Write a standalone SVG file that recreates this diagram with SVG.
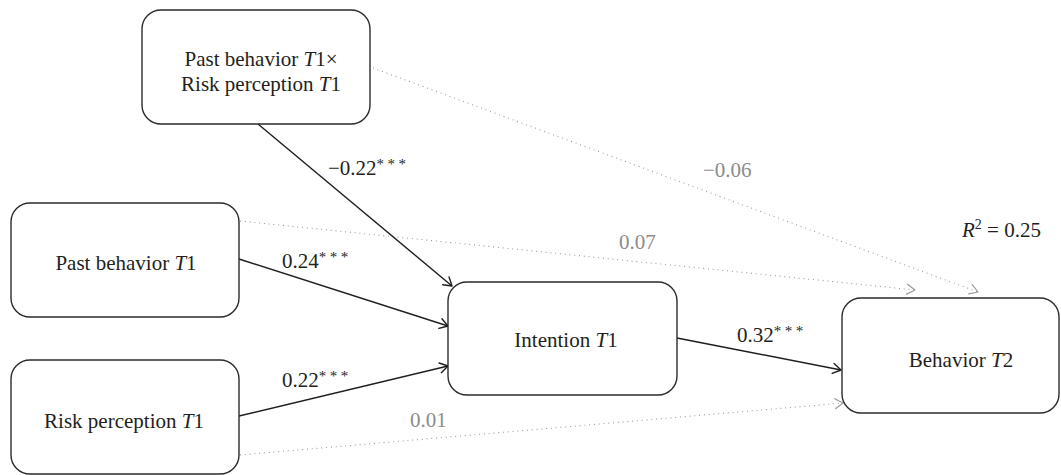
<svg xmlns="http://www.w3.org/2000/svg" width="1061" height="475" viewBox="0 0 1061 475">
<style>
.box{fill:#fff;stroke:#2b2b2b;stroke-width:1.4}
.t{font-family:"Liberation Serif","Times New Roman",serif;font-size:21px;fill:#231f20;text-anchor:middle}
.l{font-family:"Liberation Serif","Times New Roman",serif;font-size:21px;fill:#231f20}
.g{fill:#8c8c8c}
.s{stroke:#1e1e1e;stroke-width:1.4;fill:none}
.d{stroke:#9a9a9a;stroke-width:1.1;fill:none;stroke-dasharray:1 3.8}
.ast{font-size:15px;letter-spacing:3.5px}
</style>
<defs>
<marker id="ab" markerUnits="userSpaceOnUse" markerWidth="12" markerHeight="12" viewBox="-10 -6 12 12" refX="0" refY="0" orient="auto">
<path d="M-8,-5 L0,0 L-8,5" fill="none" stroke="#1e1e1e" stroke-width="1.4" stroke-linecap="round" stroke-linejoin="round"/>
</marker>
<marker id="ag" markerUnits="userSpaceOnUse" markerWidth="12" markerHeight="12" viewBox="-10 -6 12 12" refX="0" refY="0" orient="auto">
<path d="M-8,-5 L0,0 L-8,5" fill="none" stroke="#9a9a9a" stroke-width="1.2" stroke-linecap="round" stroke-linejoin="round"/>
</marker>
</defs>

<g id="connectors">
<path class="d" d="M373,68 L978,292" marker-end="url(#ag)"/>
<path class="d" d="M240,221 L915,290" marker-end="url(#ag)"/>
<path class="d" d="M240,455 L843,403" marker-end="url(#ag)"/>
<path class="s" d="M258,124 L452,286" marker-end="url(#ab)"/>
<path class="s" d="M239,259 L448,326" marker-end="url(#ab)"/>
<path class="s" d="M239,416 L448,366" marker-end="url(#ab)"/>
<path class="s" d="M677,338 L841,370" marker-end="url(#ab)"/>
</g>

<g id="labels">
<text class="l" x="328" y="175">−0.22<tspan class="ast" dy="-6">***</tspan></text>
<text class="l" x="282" y="268">0.24<tspan class="ast" dy="-6">***</tspan></text>
<text class="l" x="282" y="387">0.22<tspan class="ast" dy="-6">***</tspan></text>
<text class="l" x="737" y="342">0.32<tspan class="ast" dy="-6">***</tspan></text>
<text class="l g" x="703" y="177">−0.06</text>
<text class="l g" x="619" y="249">0.07</text>
<text class="l g" x="410" y="427">0.01</text>
<text class="l" x="962" y="237"><tspan font-style="italic">R</tspan><tspan font-size="14" dy="-8">2</tspan><tspan dy="8"> = 0.25</tspan></text>
</g>

<g id="node-interaction">
<rect class="box" x="142" y="10" width="228" height="114" rx="19"/>
<text class="t" x="261" y="66">Past behavior <tspan font-style="italic">T</tspan>1×</text>
<text class="t" x="261" y="91">Risk perception <tspan font-style="italic">T</tspan>1</text>
</g>

<g id="node-past">
<rect class="box" x="11" y="203" width="228" height="114" rx="19"/>
<text class="t" x="126" y="270">Past behavior <tspan font-style="italic">T</tspan>1</text>
</g>

<g id="node-risk">
<rect class="box" x="11" y="360" width="228" height="114" rx="19"/>
<text class="t" x="124" y="428">Risk perception <tspan font-style="italic">T</tspan>1</text>
</g>

<g id="node-intention">
<rect class="box" x="448" y="282" width="229" height="113" rx="19"/>
<text class="t" x="566" y="347">Intention <tspan font-style="italic">T</tspan>1</text>
</g>

<g id="node-behavior">
<rect class="box" x="842" y="298" width="217" height="115" rx="19"/>
<text class="t" x="961" y="367">Behavior <tspan font-style="italic">T</tspan>2</text>
</g>
</svg>
